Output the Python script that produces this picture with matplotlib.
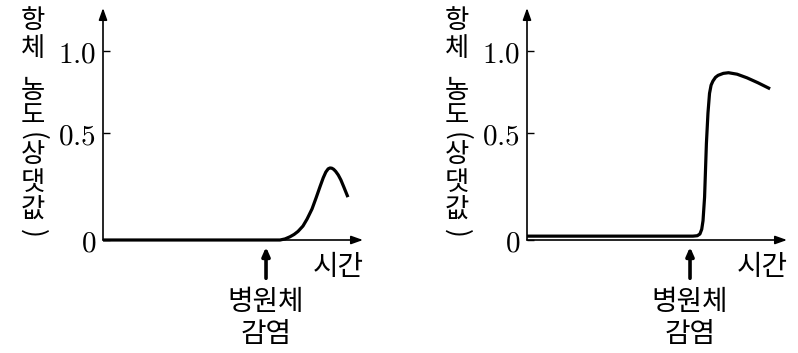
import numpy as np
import matplotlib
matplotlib.use('Agg')
import matplotlib.pyplot as plt

plt.rcParams['mathtext.fontset'] = 'cm'
plt.rcParams['font.family'] = ['Noto Sans CJK KR', 'DejaVu Sans']

# antibody level (relative), time in arbitrary units
left_t = [0, 6.81, 7.0, 7.19, 7.35, 7.5, 7.69, 7.85, 8.04, 8.2, 8.35, 8.47, 8.57, 8.66, 8.73,
          8.8, 8.87, 8.95, 9.05, 9.15, 9.27, 9.42]
left_v = [0, 0, 0.005, 0.015, 0.026, 0.04, 0.065, 0.098, 0.145, 0.198, 0.25, 0.29, 0.317, 0.332, 0.336,
          0.335, 0.33, 0.32, 0.303, 0.28, 0.245, 0.2]

right_t = [0, 6.38, 6.55, 6.65, 6.72, 6.77, 6.83, 6.9, 6.96, 7.02, 7.08, 7.15, 7.25, 7.35, 7.55, 7.75,
           8.08, 8.46, 8.88, 9.35]
right_v = [0.018, 0.018, 0.02, 0.028, 0.05, 0.09, 0.2, 0.45, 0.62, 0.74, 0.79, 0.815, 0.838, 0.85,
           0.862, 0.866, 0.857, 0.835, 0.805, 0.768]

infection_t = 6.27
yticks = [0, 0.5, 1.0]
ytick_labels = ['$0$', '$0.5$', '$1.0$']
ylabel_chars = ['항', '체', '농', '도', '(', '상', '댓', '값', ')']
ylabel_pos = [20, 49, 90, 116, 136, 154, 183, 210, 233]  # px from top


# the drawing is schematic: 0-0.5 gets more room than 0.5-1.0
def fwd(y):
    y = np.asarray(y, dtype=float)
    return np.where(y <= 0.5, y * 214, 107 + (y - 0.5) * 164)


def inv(u):
    u = np.asarray(u, dtype=float)
    return np.where(u <= 107, u / 214, 0.5 + (u - 107) / 164)


W, H = 798, 353
fig = plt.figure(figsize=(W / 100, H / 100), dpi=100)

panels = [(103, left_t, left_v), (527, right_t, right_v)]
for x0, t, v in panels:
    ax = fig.add_axes([x0 / W, (H - 240) / H, 260 / W, 232 / H])
    ax.set_yscale('function', functions=(fwd, inv))
    ax.set_xlim(0, 10)
    ax.set_ylim(0, 1.26)
    for s in ax.spines.values():
        s.set_visible(False)
    ax.set_xticks([])
    ax.set_yticks(yticks, labels=ytick_labels)
    ax.tick_params(axis='y', direction='in', length=5, width=1, pad=5, labelsize=21)

    # axes with arrow heads
    head = '-|>,head_length=0.7,head_width=0.25'
    ax.annotate('', xy=(10, 0), xytext=(0, 0),
                arrowprops=dict(arrowstyle=head, lw=1.2, color='black', shrinkA=0, shrinkB=0))
    ax.annotate('', xy=(0, 1.26), xytext=(0, 0),
                arrowprops=dict(arrowstyle=head, lw=1.2, color='black', shrinkA=0, shrinkB=0))

    ax.plot(t, v, color='black', lw=2.3, clip_on=False,
            solid_joinstyle='round', solid_capstyle='butt')

    # infection marker
    tr = ax.get_xaxis_transform()
    ax.annotate('', xy=(infection_t, -0.03), xytext=(infection_t, -0.165),
                xycoords=tr, textcoords=tr,
                arrowprops=dict(arrowstyle='-|>,head_length=0.5,head_width=0.22',
                                lw=2.6, color='black', shrinkA=0, shrinkB=0))
    ax.text(infection_t, -0.335, '병원체\n감염', transform=tr, ha='center', va='center',
            fontsize=20, linespacing=1.1)
    ax.text(9.05, -0.116, '시간', transform=tr, ha='center', va='center', fontsize=20)

    # stacked vertical y label, one character per text
    for ch, yp in zip(ylabel_chars, ylabel_pos):
        rot = -90 if ch in '()' else 0
        ax.text(-70 / 260, (240 - yp) / 232, ch, transform=ax.transAxes,
                ha='center', va='center', fontsize=19, rotation=rot)

fig.savefig('out.png', dpi=100)
